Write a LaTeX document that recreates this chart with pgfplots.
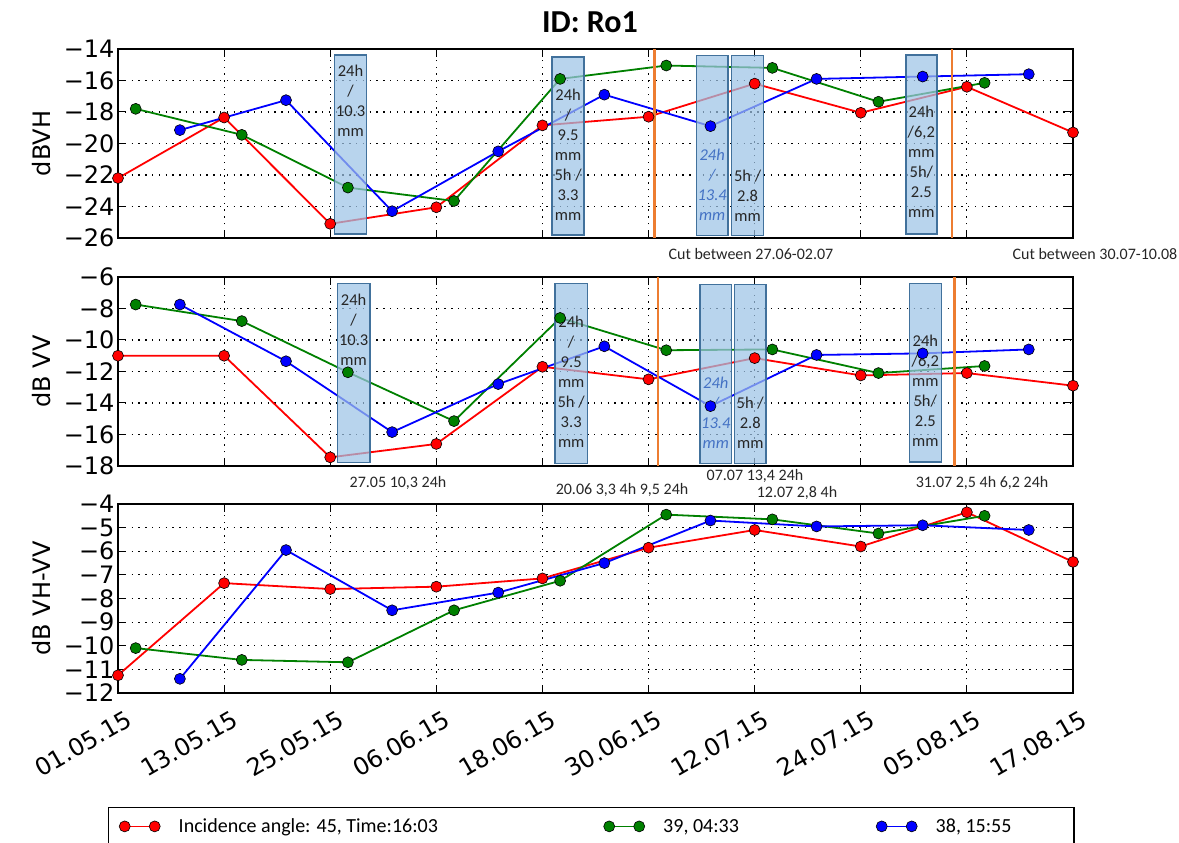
\documentclass[border=0pt]{standalone}
\usepackage{pgfplots}
\usepackage{pgfplotstable}
\pgfplotsset{compat=1.18}
\usepackage{fontspec}
\setmainfont{DejaVu Sans}
\newfontfamily\calfont{Carlito}

\definecolor{mred}{rgb}{1,0,0}
\definecolor{mgreen}{rgb}{0,0.5,0}
\definecolor{mblue}{rgb}{0,0,1}
\definecolor{boxfill}{HTML}{9DC3E6}
\definecolor{boxedge}{HTML}{41719C}
\definecolor{cutline}{HTML}{ED7D31}
\definecolor{noteblue}{HTML}{4472C4}

% day, dB VH, dB VV, dB VH-VV
\pgfplotstableread{
day p1 p2 p3
0 -22.2 -11.0 -11.25
12 -18.35 -11.0 -7.35
24 -25.1 -17.45 -7.6
36 -24.05 -16.6 -7.5
48 -18.85 -11.7 -7.15
60 -18.3 -12.5 -5.85
72 -16.2 -11.15 -5.1
84 -18.05 -12.25 -5.8
96 -16.4 -12.1 -4.35
108 -19.3 -12.9 -6.45
}\redtab

\pgfplotstableread{
day p1 p2 p3
2 -17.8 -7.75 -10.1
14 -19.45 -8.8 -10.6
26 -22.8 -12.05 -10.7
38 -23.65 -15.15 -8.5
50 -15.9 -8.6 -7.25
62 -15.05 -10.65 -4.45
74 -15.2 -10.6 -4.65
86 -17.35 -12.1 -5.25
98 -16.15 -11.65 -4.5
}\greentab

\pgfplotstableread{
day p1 p2 p3
7 -19.15 -7.75 -11.4
19 -17.25 -11.35 -5.95
31 -24.3 -15.85 -8.5
43 -20.5 -12.8 -7.75
55 -16.9 -10.4 -6.5
67 -18.9 -14.2 -4.7
79 -15.9 -10.95 -4.95
91 -15.75 -10.85 -4.9
103 -15.6 -10.6 -5.1
}\bluetab

\pgfplotsset{
  panel/.style={
    width=955pt, height=189pt, scale only axis,
    xmin=0, xmax=108, xtick={0,12,...,108},
    grid=major,
    grid style={black, line width=1.1pt, dash pattern=on 1.3pt off 5.5pt},
    axis line style={line width=2pt},
    tick align=inside, xtick pos=both, ytick pos=both,
    major tick length=8pt,
    tick style={black, line width=1pt},
    tick label style={font=\fontsize{24}{24}\selectfont},
    ylabel style={font=\fontsize{24}{24}\selectfont,
      at={(axis description cs:-0.0796,0.5)}, anchor=center},
  },
  series/.style={line width=1.8pt, color=#1, mark=*, mark size=5.5pt,
    mark options={draw=black, line width=0.6pt, fill=#1}},
}
\tikzset{
  rbox/.style={fill=boxfill, fill opacity=0.72, draw=boxedge, line width=1.4pt},
  note/.style={font=\calfont\fontsize{16.5}{20}\selectfont, align=center,
    text=black!85, inner sep=0pt},
  bnote/.style={note, text=noteblue, font=\calfont\itshape\fontsize{16.5}{20}\selectfont},
  cut/.style={cutline, line width=2.4pt},
}

\begin{document}
\begin{tikzpicture}

% ---------- dB VH ----------
\begin{axis}[panel, at={(118pt,605pt)}, anchor=south west,
  ymin=-26, ymax=-14, ytick={-26,-24,...,-14},
  yticklabels={−26,−24,−22,−20,−18,−16,−14},
  xticklabels={}, ylabel={dBVH}]
\addplot[series=mred] table[x=day,y=p1] {\redtab};
\addplot[series=mgreen] table[x=day,y=p1] {\greentab};
\addplot[series=mblue] table[x=day,y=p1] {\bluetab};
\draw[rbox] (axis cs:24.5,-14.38) rectangle (axis cs:28.1,-25.75);
\draw[rbox] (axis cs:49.1,-14.5) rectangle (axis cs:52.7,-25.8);
\draw[rbox] (axis cs:65.4,-14.42) rectangle (axis cs:69.0,-25.85);
\draw[rbox] (axis cs:69.4,-14.42) rectangle (axis cs:73.0,-25.85);
\draw[rbox] (axis cs:89.1,-14.38) rectangle (axis cs:92.6,-25.75);
\node[note] at (axis cs:26.3,-17.27) {24h\\/\\10.3\\mm};
\node[note] at (axis cs:50.9,-20.7) {24h\\/\\9.5\\mm\\5h /\\3.3\\mm};
\node[bnote] at (axis cs:67.2,-22.6) {24h\\/\\13.4\\mm};
\node[note] at (axis cs:71.2,-23.3) {5h /\\2.8\\mm};
\node[note] at (axis cs:90.85,-21.19) {24h\\/6,2\\mm\\5h/\\2.5\\mm};
\draw[cut] (axis cs:60.65,-26) -- (axis cs:60.65,-14);
\draw[cut] (axis cs:94.3,-26) -- (axis cs:94.3,-14);
\end{axis}

% ---------- dB VV ----------
\begin{axis}[panel, at={(118pt,377pt)}, anchor=south west,
  ymin=-18, ymax=-6, ytick={-18,-16,...,-6},
  yticklabels={−18,−16,−14,−12,−10,−8,−6},
  xticklabels={}, ylabel={dB VV}]
\addplot[series=mred] table[x=day,y=p2] {\redtab};
\addplot[series=mgreen] table[x=day,y=p2] {\greentab};
\addplot[series=mblue] table[x=day,y=p2] {\bluetab};
\draw[rbox] (axis cs:24.8,-6.42) rectangle (axis cs:28.5,-17.77);
\draw[rbox] (axis cs:49.4,-6.42) rectangle (axis cs:53.1,-17.83);
\draw[rbox] (axis cs:65.8,-6.46) rectangle (axis cs:69.4,-17.83);
\draw[rbox] (axis cs:69.7,-6.46) rectangle (axis cs:73.3,-17.83);
\draw[rbox] (axis cs:89.5,-6.42) rectangle (axis cs:93.1,-17.75);
\node[note] at (axis cs:26.65,-9.34) {24h\\/\\10.3\\mm};
\node[note] at (axis cs:51.25,-12.67) {24h\\/\\9.5\\mm\\5h /\\3.3\\mm};
\node[bnote] at (axis cs:67.6,-14.63) {24h\\/\\13.4\\mm};
\node[note] at (axis cs:71.5,-15.26) {5h /\\2.8\\mm};
\node[note] at (axis cs:91.3,-13.22) {24h\\/6,2\\mm\\5h/\\2.5\\mm};
\draw[cut] (axis cs:61.1,-18) -- (axis cs:61.1,-6);
\draw[cut] (axis cs:94.6,-18) -- (axis cs:94.6,-6);
\end{axis}

% ---------- dB VH-VV ----------
\begin{axis}[panel, at={(118pt,150pt)}, anchor=south west,
  ymin=-12, ymax=-4, ytick={-12,-11,...,-4},
  yticklabels={−12,−11,−10,−9,−8,−7,−6,−5,−4},
  xticklabels={01.05.15,13.05.15,25.05.15,06.06.15,18.06.15,30.06.15,12.07.15,24.07.15,05.08.15,17.08.15},
  xticklabel style={rotate=30, anchor=north east, inner sep=0pt, xshift=-2pt, yshift=-17pt},
  ylabel={dB VH-VV},
  legend columns=3,
  legend image code/.code={\draw[#1] plot coordinates {(0pt,0pt) (30pt,0pt)};},
  legend style={at={(axis description cs:-0.0105,-0.603)}, anchor=north west,
    draw=black, line width=1.5pt, inner xsep=10.5pt, inner ysep=11pt,
    font=\calfont\fontsize{20}{24}\selectfont,
    nodes={inner sep=0pt},
    /tikz/every odd column/.append style={column sep=18.5pt}},
  legend cell align=left]
\addplot[series=mred] table[x=day,y=p3] {\redtab};
\addlegendentry{\makebox[425pt][l]{Incidence angle: 45, Time:16:03}}
\addplot[series=mgreen] table[x=day,y=p3] {\greentab};
\addlegendentry{\makebox[213pt][l]{39, 04:33}}
\addplot[series=mblue] table[x=day,y=p3] {\bluetab};
\addlegendentry{\makebox[128pt][l]{38, 15:55}}
\end{axis}

% ---------- title and notes ----------
\node[font=\calfont\bfseries\fontsize{32}{34}\selectfont] at (590pt,821pt) {ID: Ro1};
\begin{scope}[every node/.style={font=\calfont\fontsize{16}{18}\selectfont, text=black!85, inner sep=0pt}]
\node at (751pt,589pt) {Cut between 27.06-02.07};
\node at (1095pt,589pt) {Cut between 30.07-10.08};
\node at (398pt,360pt) {27.05 10,3 24h};
\node at (622pt,353pt) {20.06 3,3 4h 9,5 24h};
\node at (755pt,367pt) {07.07 13,4 24h};
\node at (797pt,350pt) {12.07 2,8 4h};
\node at (982pt,360pt) {31.07 2,5 4h 6,2 24h};
\end{scope}

\pgfresetboundingbox
\useasboundingbox (0pt,0pt) rectangle (1179pt,843pt);
\end{tikzpicture}
\end{document}
